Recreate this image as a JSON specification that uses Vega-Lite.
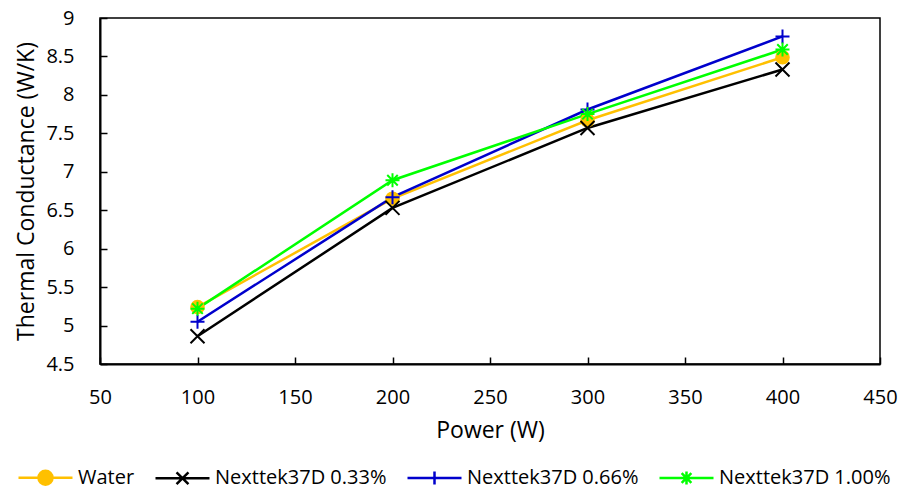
{
  "$schema": "https://vega.github.io/schema/vega-lite/v6.json",
  "width": 780,
  "height": 346,
  "autosize": "none",
  "padding": {"left": 100, "top": 18, "right": 21, "bottom": 127},
  "background": "white",
  "config": {
    "font": "Open Sans",
    "view": {"stroke": "black", "strokeWidth": 1.5},
    "axis": {
      "grid": false,
      "labelFlush": false,
      "labelOverlap": false,
      "domainColor": "black",
      "domainWidth": 2,
      "tickColor": "black",
      "tickWidth": 1.5,
      "tickSize": -7,
      "labelFont": "Open Sans",
      "labelFontSize": 20,
      "labelColor": "#000000",
      "titleFont": "Open Sans",
      "titleFontSize": 23,
      "titleFontWeight": "normal",
      "titleColor": "#000000"
    },
    "legend": {
      "orient": "none",
      "legendX": -83,
      "legendY": 431,
      "direction": "horizontal",
      "symbolSize": 2916,
      "symbolStrokeWidth": 2.5,
      "labelFont": "Open Sans",
      "labelFontSize": 20,
      "labelColor": "#000000",
      "labelLimit": 0,
      "labelOffset": 4,
      "columnPadding": 15,
      "padding": 0,
      "symbolOpacity": 1
    }
  },
  "data": {
    "values": [
      {"series": "Water", "power": 100, "tc": 5.24},
      {"series": "Water", "power": 200, "tc": 6.65},
      {"series": "Water", "power": 300, "tc": 7.67},
      {"series": "Water", "power": 400, "tc": 8.49},
      {"series": "Nexttek37D 0.33%", "power": 100, "tc": 4.86},
      {"series": "Nexttek37D 0.33%", "power": 200, "tc": 6.53},
      {"series": "Nexttek37D 0.33%", "power": 300, "tc": 7.57},
      {"series": "Nexttek37D 0.33%", "power": 400, "tc": 8.33},
      {"series": "Nexttek37D 0.66%", "power": 100, "tc": 5.05},
      {"series": "Nexttek37D 0.66%", "power": 200, "tc": 6.67},
      {"series": "Nexttek37D 0.66%", "power": 300, "tc": 7.81},
      {"series": "Nexttek37D 0.66%", "power": 400, "tc": 8.76},
      {"series": "Nexttek37D 1.00%", "power": 100, "tc": 5.22},
      {"series": "Nexttek37D 1.00%", "power": 200, "tc": 6.89},
      {"series": "Nexttek37D 1.00%", "power": 300, "tc": 7.75},
      {"series": "Nexttek37D 1.00%", "power": 400, "tc": 8.59}
    ]
  },
  "encoding": {
    "x": {
      "field": "power",
      "type": "quantitative",
      "title": "Power (W)",
      "scale": {"domain": [50, 450], "nice": false, "zero": false},
      "axis": {"values": [50, 100, 150, 200, 250, 300, 350, 400, 450], "labelPadding": 30, "titlePadding": 12}
    },
    "y": {
      "field": "tc",
      "type": "quantitative",
      "title": "Thermal Conductance (W/K)",
      "scale": {"domain": [4.5, 9], "nice": false, "zero": false},
      "axis": {"values": [4.5, 5, 5.5, 6, 6.5, 7, 7.5, 8, 8.5, 9], "format": "~g", "labelPadding": 33, "titlePadding": 7}
    }
  },
  "layer": [
    {
      "mark": {"type": "line", "strokeWidth": 2.5},
      "encoding": {
        "color": {
          "field": "series",
          "type": "nominal",
          "scale": {"domain": ["Water", "Nexttek37D 0.33%", "Nexttek37D 0.66%", "Nexttek37D 1.00%"], "range": ["#FFC000", "#000000", "#0000CC", "#00FF00"]},
          "legend": null
        }
      }
    },
    {
      "transform": [{"filter": "datum.series === 'Water'"}],
      "mark": {"type": "point", "shape": "circle", "filled": true, "color": "#FFC000", "size": 160, "opacity": 1}
    },
    {
      "mark": {"type": "point", "filled": false, "strokeWidth": 2, "size": 196, "opacity": 1},
      "encoding": {
        "color": {
          "field": "series",
          "type": "nominal",
          "scale": {"domain": ["Water", "Nexttek37D 0.33%", "Nexttek37D 0.66%", "Nexttek37D 1.00%"], "range": ["#FFC000", "#000000", "#0000CC", "#00FF00"]},
          "legend": null
        },
        "shape": {
          "field": "series",
          "type": "nominal",
          "scale": {
            "domain": ["Water", "Nexttek37D 0.33%", "Nexttek37D 0.66%", "Nexttek37D 1.00%"],
            "range": [
              "M-0.9,0A0.9,0.9 0 1,0 0.9,0A0.9,0.9 0 1,0 -0.9,0Z",
              "M-1,-1L1,1M-1,1L1,-1",
              "M-1,0H1M0,-1V1",
              "M-1,0H1M0,-1V1M-0.75,-0.75L0.75,0.75M-0.75,0.75L0.75,-0.75"
            ]
          },
          "legend": null
        }
      }
    },
    {
      "transform": [{"filter": "false"}],
      "mark": {"type": "point", "filled": false, "strokeWidth": 2.5, "opacity": 1},
      "encoding": {
        "stroke": {
          "field": "series",
          "type": "nominal",
          "title": null,
          "scale": {"domain": ["Water", "Nexttek37D 0.33%", "Nexttek37D 0.66%", "Nexttek37D 1.00%"], "range": ["#FFC000", "#000000", "#0000CC", "#00FF00"]}
        },
        "fill": {
          "field": "series",
          "type": "nominal",
          "title": null,
          "scale": {"domain": ["Water", "Nexttek37D 0.33%", "Nexttek37D 0.66%", "Nexttek37D 1.00%"], "range": ["#FFC000", "transparent", "transparent", "transparent"]}
        },
        "shape": {
          "field": "series",
          "type": "nominal",
          "title": null,
          "scale": {
            "domain": ["Water", "Nexttek37D 0.33%", "Nexttek37D 0.66%", "Nexttek37D 1.00%"],
            "range": [
              "M-1,0H1M-0.26,0A0.26,0.26 0 1,0 0.26,0A0.26,0.26 0 1,0 -0.26,0Z",
              "M-1,0H1M-0.22,-0.22L0.22,0.22M-0.22,0.22L0.22,-0.22",
              "M-1,0H1M0,-0.24V0.24",
              "M-1,0H1M0,-0.24V0.24M-0.18,-0.18L0.18,0.18M-0.18,0.18L0.18,-0.18"
            ]
          }
        }
      }
    }
  ],
  "resolve": {
    "scale": {"shape": "independent", "stroke": "independent", "fill": "independent"},
    "legend": {"shape": "independent", "stroke": "independent", "fill": "independent"}
  }
}
